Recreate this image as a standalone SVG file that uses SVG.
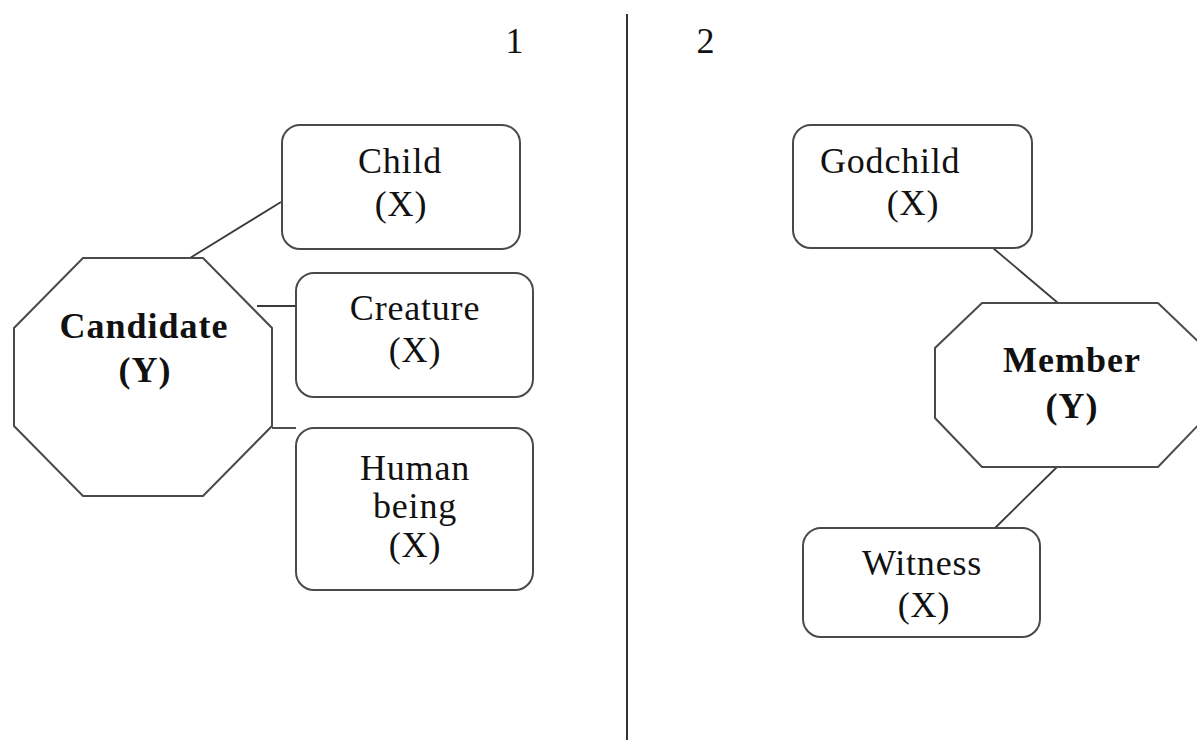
<svg xmlns="http://www.w3.org/2000/svg" width="1197" height="740" viewBox="0 0 1197 740">
  <style>
    .box { fill: #fff; stroke: #4a4a4a; stroke-width: 2; }
    .oct { fill: #fff; stroke: #4a4a4a; stroke-width: 2; }
    .link { stroke: #3a3a3a; stroke-width: 1.8; fill: none; }
    .t { font-family: "Liberation Serif", "Times New Roman", serif; font-size: 36px; fill: #111; letter-spacing: 0.8px; }
    .c { text-anchor: middle; }
    .b { font-weight: bold; letter-spacing: 1px; }
  </style>
  <rect width="1197" height="740" fill="#fff"/>

  <!-- panel divider and panel numbers -->
  <g id="divider">
    <line x1="627" y1="14" x2="627" y2="740" stroke="#333" stroke-width="2"/>
    <text class="t c" x="515" y="53">1</text>
    <text class="t c" x="706" y="53">2</text>
  </g>

  <!-- connectors -->
  <g id="connectors">
    <line class="link" x1="190" y1="258" x2="281" y2="202"/>
    <line class="link" x1="257" y1="306" x2="296" y2="306"/>
    <line class="link" x1="272" y1="428" x2="296" y2="428"/>
    <line class="link" x1="993" y1="248" x2="1058" y2="303"/>
    <line class="link" x1="1057" y1="467" x2="995" y2="528"/>
  </g>

  <!-- panel 1 -->
  <g id="candidate">
    <polygon class="oct" points="83,258 203,258 272,328 272,426 203,496 83,496 14,426 14,328"/>
    <text class="t c b" x="144" y="338">Candidate</text>
    <text class="t c b" x="145" y="382">(Y)</text>
  </g>
  <g id="child">
    <rect class="box" x="282" y="125" width="238" height="124" rx="18"/>
    <text class="t c" x="400" y="173">Child</text>
    <text class="t c" x="401" y="216">(X)</text>
  </g>
  <g id="creature">
    <rect class="box" x="296" y="273" width="237" height="124" rx="18"/>
    <text class="t c" x="415" y="320">Creature</text>
    <text class="t c" x="415" y="362">(X)</text>
  </g>
  <g id="human-being">
    <rect class="box" x="296" y="428" width="237" height="162" rx="18"/>
    <text class="t c" x="415" y="480">Human</text>
    <text class="t c" x="415" y="518">being</text>
    <text class="t c" x="415" y="557">(X)</text>
  </g>

  <!-- panel 2 -->
  <g id="godchild">
    <rect class="box" x="793" y="125" width="239" height="123" rx="18"/>
    <text class="t" x="820" y="173">Godchild</text>
    <text class="t c" x="913" y="215">(X)</text>
  </g>
  <g id="member">
    <polygon class="oct" points="982,303 1158,303 1205,348 1205,418 1158,467 982,467 935,418 935,348"/>
    <text class="t c b" x="1072" y="372">Member</text>
    <text class="t c b" x="1072" y="418">(Y)</text>
  </g>
  <g id="witness">
    <rect class="box" x="803" y="528" width="237" height="109" rx="18"/>
    <text class="t c" x="922" y="575">Witness</text>
    <text class="t c" x="924" y="617">(X)</text>
  </g>
</svg>
